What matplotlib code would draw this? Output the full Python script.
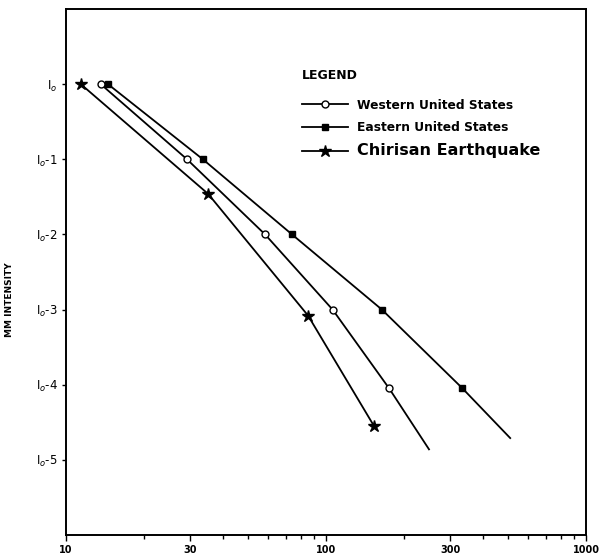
import matplotlib
matplotlib.use("Agg")
import matplotlib.pyplot as plt
import matplotlib.ticker as mticker

# ── Data (distance, intensity drop below I0) ──────────────────────────────────
west_x = [13.6, 29.2, 58.3, 106, 175, 249]
west_y = [0, -1, -2, -3, -4.05, -4.86]
east_x = [14.5, 33.6, 74.0, 164, 333, 511]
east_y = [0, -1, -2, -3, -4.04, -4.71]
chir_x = [11.4, 35.2, 85.3, 153]
chir_y = [0, -1.46, -3.08, -4.55]

y_ticks = [0, -1, -2, -3, -4, -5]
y_labels = [r"I$_o$", r"I$_o$-1", r"I$_o$-2", r"I$_o$-3", r"I$_o$-4", r"I$_o$-5"]
x_ticks = [10, 30, 100, 300, 1000]
x_labels = ["10", "30", "100", "300", "1000"]
x_minor = [20, 40, 50, 60, 70, 80, 90, 200, 400, 500, 600, 700, 800, 900]

plt.rcParams.update({"font.family": "DejaVu Sans"})

fig = plt.figure(figsize=(6.01, 5.56), dpi=100)
ax = fig.add_axes([66 / 601, 21 / 556, 520 / 601, 526 / 556])

ax.plot(west_x, west_y, color="black", lw=1.3, marker="o", ms=5,
        mfc="white", mec="black", mew=1.0, markevery=list(range(5)),
        label="Western United States")
ax.plot(east_x, east_y, color="black", lw=1.3, marker="s", ms=4.5,
        mfc="black", mec="black", markevery=list(range(5)),
        label="Eastern United States")
ax.plot(chir_x, chir_y, color="black", lw=1.3, marker="*", ms=9,
        mfc="black", mec="black", label="Chirisan Earthquake")

ax.set_xscale("log")
ax.set_xlim(10, 1000)
ax.set_ylim(-6, 1)
ax.set_xticks(x_ticks)
ax.set_xticklabels(x_labels)
ax.xaxis.set_minor_locator(mticker.FixedLocator(x_minor))
ax.xaxis.set_minor_formatter(mticker.NullFormatter())
ax.set_yticks(y_ticks)
ax.set_yticklabels(y_labels)
ax.tick_params(axis="x", which="major", direction="out", length=4, width=1,
               labelsize=7, pad=3)
ax.tick_params(axis="x", which="minor", direction="out", length=3, width=1)
ax.tick_params(axis="y", direction="out", length=3, width=1, labelsize=8.5, pad=3)
for lbl in ax.get_xticklabels():
    lbl.set_fontweight("bold")
for sp in ax.spines.values():
    sp.set_linewidth(1.4)

ax.set_ylabel("MM INTENSITY", fontsize=6.5, fontweight="bold")
ax.yaxis.set_label_coords(-52 / 520, 235 / 526)

leg = ax.legend(loc="upper left", bbox_to_anchor=(236 / 520, 466 / 526),
                frameon=False, borderpad=0, borderaxespad=0,
                title="LEGEND", alignment="left", handlelength=3.8,
                handletextpad=0.7, labelspacing=0.75, fontsize=8.8,
                title_fontproperties={"size": 9, "weight": "bold"})
leg._legend_box.sep = 12
texts = leg.get_texts()
for t in texts:
    t.set_fontweight("bold")
texts[2].set_fontsize(11.5)

fig.savefig("out.png", dpi=100)
